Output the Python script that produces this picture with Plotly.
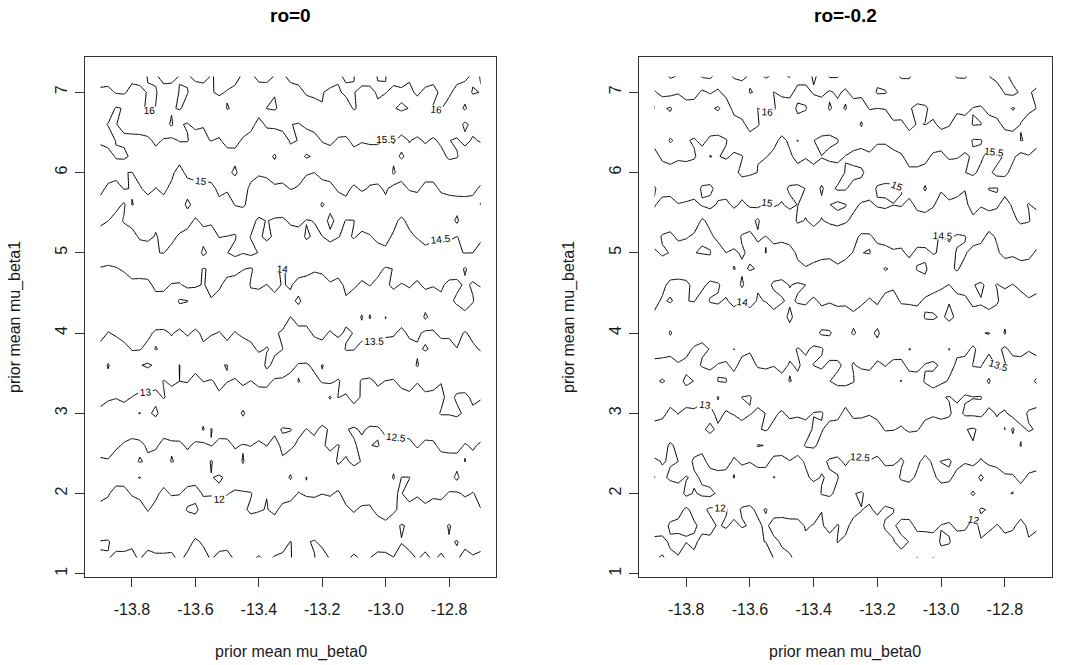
import numpy as np
import plotly.graph_objects as go

# grid coordinates (49 columns, 31 rows)
x_vals = [-13.900, -13.875, -13.850, -13.825, -13.800, -13.775, -13.750, -13.725, -13.700, -13.675,
          -13.650, -13.625, -13.600, -13.575, -13.550, -13.525, -13.500, -13.475, -13.450, -13.425,
          -13.400, -13.375, -13.350, -13.325, -13.300, -13.275, -13.250, -13.225, -13.200, -13.175,
          -13.150, -13.125, -13.100, -13.075, -13.050, -13.025, -13.000, -12.975, -12.950, -12.925,
          -12.900, -12.875, -12.850, -12.825, -12.800, -12.775, -12.750, -12.725, -12.700]
# rows from top (7.2) to bottom (1.2)
y_desc = [7.2, 7.0, 6.8, 6.6, 6.4, 6.2, 6.0, 5.8, 5.6, 5.4, 5.2, 5.0, 4.8, 4.6, 4.4, 4.2,
          4.0, 3.8, 3.6, 3.4, 3.2, 3.0, 2.8, 2.6, 2.4, 2.2, 2.0, 1.8, 1.6, 1.4, 1.2]

# ro=0 : one list per x column (left to right), values from y=7.2 down to y=1.2
z_ro0_cols = [
 [16.20,15.91,15.92,15.59,15.59,15.24,15.24,15.18,14.77,14.64,14.22,14.19,13.98,13.74,13.84,13.61,13.67,13.36,13.35,13.03,13.13,12.91,12.67,12.71,12.43,12.42,12.02,11.98,11.85,11.48,11.52],
 [16.24,15.86,15.77,15.48,15.68,15.30,15.29,14.86,14.84,14.51,14.16,14.32,13.91,13.98,13.65,13.74,13.48,13.43,12.95,13.16,13.03,12.90,12.56,12.72,12.46,12.22,12.04,11.85,11.83,11.46,11.53],
 [16.08,16.04,15.45,15.49,15.48,15.55,15.20,14.79,14.68,14.28,14.34,14.26,13.97,13.96,13.66,13.74,13.56,13.28,13.34,13.05,13.03,12.68,12.71,12.59,12.25,12.19,11.83,11.84,11.61,11.68,11.38],
 [16.03,16.06,15.53,15.60,15.42,15.60,15.01,15.03,14.42,14.55,14.22,14.42,14.05,13.80,13.86,13.60,13.75,13.31,13.37,13.03,13.12,12.75,12.75,12.44,12.38,12.22,11.82,11.86,11.61,11.72,11.36],
 [16.13,15.85,15.87,15.53,15.48,15.41,14.99,14.98,15.01,14.67,14.31,14.31,14.22,13.87,13.86,13.61,13.69,13.53,13.21,13.27,12.99,12.95,12.54,12.47,12.39,12.05,12.05,11.72,11.75,11.54,11.45],
 [16.18,15.87,15.88,15.77,15.34,15.50,15.18,14.95,14.95,14.56,14.57,14.20,14.35,13.77,13.98,13.76,13.53,13.53,13.02,13.36,12.83,13.01,12.67,12.42,12.53,11.99,12.15,11.76,11.81,11.52,11.53],
 [15.98,16.03,16.08,15.74,15.42,15.43,15.16,15.15,14.77,14.73,14.60,14.25,14.24,13.87,13.96,13.68,13.63,13.35,12.95,13.24,12.90,12.90,12.54,12.55,12.44,12.12,12.11,12.04,11.67,11.66,11.36],
 [15.95,16.03,15.99,15.66,15.58,15.35,15.19,14.99,14.93,14.58,14.47,14.49,14.10,14.12,13.83,13.85,13.41,13.52,13.05,13.17,12.85,13.12,12.55,12.57,12.30,12.25,12.10,11.86,11.75,11.55,11.48],
 [16.14,15.84,15.68,15.74,15.47,15.46,15.07,15.07,14.89,14.56,14.60,14.51,14.13,14.12,13.82,13.81,13.41,13.43,13.31,12.98,13.03,12.72,12.69,12.35,12.35,12.21,11.87,11.86,11.58,11.63,11.45],
 [16.15,15.80,15.94,16.08,15.38,15.42,15.08,14.92,14.93,14.54,14.60,14.38,14.33,13.97,13.76,13.69,13.53,13.36,13.25,13.07,12.85,12.80,12.60,12.46,12.52,12.06,12.05,11.68,11.81,11.66,11.42],
 [15.98,16.02,16.05,15.53,15.53,15.17,14.84,14.95,14.70,14.73,14.44,14.48,14.32,13.95,13.45,13.74,13.42,13.40,12.99,13.00,12.88,12.61,12.70,12.43,12.44,12.06,12.02,11.76,11.86,11.57,11.58],
 [15.95,16.02,15.83,15.47,15.53,15.14,15.12,14.77,15.12,14.68,14.32,14.39,14.15,14.12,13.49,13.67,13.55,13.30,13.18,13.02,12.80,12.73,12.57,12.55,12.37,12.23,11.83,12.04,11.72,11.63,11.42],
 [16.11,15.77,15.76,15.62,15.26,15.28,15.18,14.82,14.82,14.43,14.45,14.11,14.12,14.05,13.72,13.75,13.42,13.42,13.16,12.85,12.96,12.69,12.70,12.44,12.47,12.15,11.84,12.10,11.74,11.44,11.44],
 [16.16,15.78,15.81,15.51,15.46,15.35,15.06,14.95,14.77,14.61,14.32,14.62,13.98,13.98,13.97,13.57,13.57,13.44,13.15,13.01,12.83,12.79,13.05,12.38,12.33,12.02,12.04,11.82,11.88,11.55,11.38],
 [15.98,15.96,15.60,15.57,15.51,15.17,15.20,14.88,14.87,14.57,14.30,14.34,14.04,14.08,13.98,13.61,13.55,13.22,13.28,12.97,12.95,12.77,12.48,12.52,11.95,12.02,12.04,11.77,11.84,11.51,11.54],
 [16.05,16.08,15.70,15.72,15.45,15.35,15.18,15.10,14.90,14.55,14.51,14.32,14.18,14.08,13.82,13.69,13.48,13.43,13.02,13.08,12.95,12.68,12.66,12.38,12.31,11.94,12.11,11.85,11.68,11.67,11.39],
 [16.26,15.96,16.02,15.68,15.65,15.32,15.32,15.07,14.74,14.77,14.49,14.49,14.17,13.84,13.92,13.56,13.58,13.41,12.99,13.02,12.69,12.78,12.65,12.40,12.42,12.07,12.03,11.72,11.75,11.65,11.37],
 [16.19,15.85,15.95,15.59,15.66,15.33,15.62,15.04,15.02,14.66,14.47,14.59,14.21,13.71,13.97,13.68,13.48,13.41,13.24,12.95,12.83,12.80,12.78,12.54,12.36,12.34,11.90,11.94,11.59,11.58,11.56],
 [15.91,15.97,15.71,15.75,15.44,15.47,15.15,15.23,15.06,14.72,14.69,14.52,14.02,13.77,13.84,13.56,13.60,13.25,13.23,13.08,12.79,13.05,12.77,12.48,12.52,12.36,11.94,11.93,11.63,11.68,11.51],
 [15.91,16.00,15.62,15.65,15.31,15.39,15.19,14.87,14.86,14.68,14.48,14.61,13.96,14.03,13.87,13.57,13.70,13.34,13.31,12.99,12.89,12.83,12.87,12.51,12.36,12.36,11.97,12.07,11.81,11.64,11.58],
 [16.13,15.77,15.71,15.35,15.41,15.09,15.06,14.77,14.86,14.40,14.45,14.48,14.13,14.09,13.76,13.83,13.59,13.59,13.15,13.11,12.80,12.80,12.72,12.41,12.44,12.15,12.21,12.04,11.75,11.79,11.46],
 [16.15,15.77,16.01,15.57,15.26,15.15,15.02,14.96,14.78,14.52,14.57,14.30,14.18,13.99,13.94,13.79,13.68,13.47,13.62,13.13,12.79,12.85,12.57,12.51,12.34,12.32,12.01,11.98,11.88,11.63,11.58],
 [15.98,15.98,16.05,15.58,15.28,14.95,15.22,14.92,14.86,14.43,14.45,14.37,14.04,14.12,13.87,13.90,13.57,13.59,13.37,12.93,12.98,12.65,12.60,12.35,12.44,12.32,12.04,12.10,11.80,11.73,11.47],
 [15.93,16.00,15.87,15.66,15.29,15.23,15.24,14.87,14.88,14.40,14.44,14.46,13.97,13.97,13.98,13.81,13.42,13.51,13.15,12.96,12.83,12.80,12.47,12.59,12.45,12.31,12.21,11.87,11.90,11.73,11.39],
 [16.12,15.81,15.84,15.51,15.55,15.33,15.01,15.02,14.64,14.59,14.26,14.31,14.07,14.05,13.89,13.49,13.47,13.16,13.17,12.81,12.89,12.75,12.49,12.58,12.27,12.55,12.15,11.83,11.83,11.49,11.48],
 [16.22,15.82,15.87,15.47,15.49,15.33,15.13,14.97,14.59,14.64,14.28,14.36,14.23,13.82,14.08,13.72,13.33,13.36,12.96,13.01,12.88,12.65,12.59,12.43,12.41,12.18,11.98,11.93,11.73,11.61,11.63],
 [16.15,16.07,15.69,15.61,15.21,15.55,15.05,14.75,14.78,14.48,14.56,14.22,14.17,13.79,13.81,13.69,13.35,13.34,12.95,12.95,12.69,12.79,12.49,12.49,12.30,11.99,12.05,11.77,11.82,11.54,11.56],
 [16.15,16.16,15.71,15.72,15.28,15.45,15.00,14.91,14.72,14.51,14.44,14.46,14.02,13.92,13.91,13.51,13.58,13.25,13.08,12.90,12.83,12.67,12.57,12.39,12.20,12.13,12.12,11.62,11.87,11.46,11.52],
 [16.33,16.03,15.98,15.58,15.54,15.18,15.16,14.80,14.45,14.78,14.49,14.48,14.10,13.79,13.83,13.53,13.57,13.41,12.99,13.03,12.72,12.74,12.42,12.45,12.33,12.03,12.01,11.68,11.72,11.62,11.31],
 [16.31,15.88,15.92,15.55,15.62,15.24,15.24,14.82,14.68,14.35,14.63,14.23,14.23,13.95,13.75,13.66,13.47,13.47,13.06,13.10,12.45,12.86,12.54,12.59,12.34,12.29,12.06,11.71,11.79,11.52,11.54],
 [16.07,15.93,15.67,15.75,15.44,15.46,15.12,15.08,14.69,14.67,14.52,14.18,14.17,13.87,13.93,13.59,13.58,13.29,13.31,12.95,13.01,12.77,12.81,12.48,12.54,12.33,11.92,11.97,11.63,11.62,11.53],
 [15.93,16.10,15.75,15.77,15.41,15.48,15.09,15.11,14.88,14.48,14.41,14.31,14.11,14.08,13.96,13.58,13.45,13.53,13.15,13.19,12.95,12.88,12.52,12.61,12.45,12.21,12.21,11.91,11.80,11.60,11.58],
 [15.99,16.02,16.05,15.59,15.63,15.31,15.29,14.91,14.87,14.49,14.54,14.21,14.20,14.08,13.74,13.78,13.51,13.52,13.19,13.20,13.13,12.81,12.45,12.54,12.59,12.27,12.26,12.06,11.73,11.74,11.43],
 [16.21,15.86,15.87,15.71,15.52,15.37,15.13,15.07,14.67,14.73,14.38,14.41,14.21,13.92,13.83,13.45,13.70,13.30,13.35,12.95,12.96,12.90,12.55,12.41,12.48,12.14,12.33,11.89,11.93,11.53,11.56],
 [16.19,15.88,15.93,15.61,15.61,15.18,15.15,14.96,14.68,14.76,14.46,14.41,14.04,14.02,13.70,14.05,13.64,13.28,13.28,12.93,12.97,12.75,12.44,12.49,12.19,12.25,12.20,11.92,11.88,11.51,11.51],
 [15.98,16.05,15.93,15.57,15.61,15.19,15.22,14.91,14.88,14.56,14.63,14.29,14.12,13.89,13.89,13.65,13.71,13.40,13.18,13.06,12.87,12.81,12.44,12.53,12.21,12.32,12.11,12.14,11.78,11.73,11.37],
 [15.99,16.02,15.69,15.76,15.43,15.40,15.03,15.07,14.88,14.60,14.61,14.42,13.95,13.94,13.85,13.49,13.58,13.30,13.32,12.99,12.96,12.60,12.61,12.35,12.42,12.14,12.23,12.18,11.91,11.74,11.38],
 [16.21,15.85,15.98,15.66,15.53,15.39,15.58,14.83,14.94,14.62,14.44,14.43,14.01,14.07,13.82,13.75,13.57,13.24,13.31,12.96,12.99,12.59,12.52,12.48,12.30,12.56,12.01,12.12,11.60,11.73,11.49],
 [16.22,15.91,16.05,15.75,15.37,15.55,15.21,14.83,14.81,14.40,14.48,14.23,14.28,13.97,13.96,13.77,13.36,13.39,13.11,13.16,12.80,12.78,12.66,12.35,12.36,11.99,11.99,11.82,11.47,11.51,11.42],
 [16.06,15.90,15.99,15.64,15.52,15.39,15.24,15.05,14.65,14.63,14.40,14.33,14.15,14.04,13.83,13.79,13.60,13.31,13.24,13.21,12.88,12.68,12.69,12.37,12.40,11.99,12.12,11.89,11.55,11.64,11.39],
 [16.14,16.08,15.75,15.78,15.42,15.42,15.05,15.09,14.72,14.66,14.54,14.18,14.21,13.92,13.95,13.58,13.59,13.43,13.55,13.04,12.72,12.80,12.51,12.56,12.19,12.21,12.07,11.74,11.82,11.52,11.53],
 [16.26,15.88,15.78,15.87,15.55,15.32,15.23,14.84,14.92,14.53,14.70,14.32,14.11,14.10,13.74,14.10,13.40,13.54,13.21,13.20,12.90,12.70,12.74,12.38,12.42,12.04,12.18,11.89,11.73,11.62,11.43],
 [16.15,15.86,16.04,15.76,15.44,15.43,15.23,14.84,14.87,14.59,14.63,14.22,14.21,14.04,13.70,13.76,13.44,13.43,13.10,13.17,12.87,12.83,12.75,12.40,12.40,12.04,12.09,11.80,11.83,11.53,11.55],
 [16.00,16.09,16.02,15.69,15.58,15.37,15.34,15.10,14.71,14.79,14.51,14.33,14.12,14.07,13.91,13.58,13.63,13.25,13.32,13.02,12.89,13.04,12.63,12.66,12.26,12.27,12.14,11.78,11.74,11.62,11.45],
 [16.05,16.08,15.82,15.85,15.51,15.57,15.22,15.16,14.77,14.75,14.59,14.25,14.27,13.88,13.88,13.59,13.60,13.30,13.33,13.05,13.15,13.03,12.70,12.68,12.30,12.29,11.96,11.99,11.45,11.54,11.57],
 [16.16,15.85,15.84,15.75,15.45,15.53,15.15,15.20,14.78,15.10,14.49,14.47,14.23,13.88,14.11,13.64,13.63,13.49,13.15,13.25,12.92,13.10,12.65,12.68,12.31,12.62,11.93,11.97,11.72,11.48,11.56],
 [16.08,15.83,16.06,15.40,15.62,15.28,15.33,15.01,14.99,14.60,14.60,14.51,13.95,14.07,14.11,13.93,13.46,13.49,13.21,13.25,12.90,12.92,12.80,12.46,12.51,12.12,12.07,11.75,11.81,11.63,11.35],
 [15.94,16.03,15.77,15.64,15.45,15.37,15.18,15.09,14.88,14.72,14.53,14.50,14.19,13.95,14.03,13.76,13.61,13.42,13.32,13.14,13.08,12.92,12.66,12.56,12.37,12.23,11.98,11.97,11.65,11.78,11.44],
 [16.01,15.99,15.66,15.65,15.54,15.21,15.23,14.94,15.01,14.64,14.63,14.24,14.25,14.04,13.75,13.83,13.53,13.54,13.18,13.24,13.05,12.74,12.76,12.43,12.43,12.10,12.11,11.99,11.66,11.70,11.37],
]

# ro=-0.2 : one list per x column (left to right), values from y=7.2 down to y=1.2
z_ro02_cols = [
 [16.39,15.94,16.01,15.65,15.71,15.27,15.32,14.94,15.06,14.73,14.80,14.40,14.43,14.01,14.11,13.93,13.59,13.73,13.35,13.41,13.04,13.17,12.82,12.86,12.40,12.51,12.16,12.28,12.23,11.89,11.96],
 [16.32,16.17,15.56,15.82,15.72,15.62,15.20,15.25,14.77,14.87,14.44,14.57,14.23,14.11,13.95,13.92,13.66,13.85,13.21,13.55,13.00,13.14,12.74,12.77,12.53,12.40,12.30,12.15,12.23,11.87,12.03],
 [16.55,16.16,15.45,15.70,16.05,15.71,15.28,15.24,14.75,14.79,14.37,14.48,14.27,13.88,14.04,13.70,14.05,13.68,13.28,13.39,13.22,12.87,12.97,12.40,12.46,12.58,12.18,12.26,11.92,12.07,11.91],
 [16.48,16.03,15.73,15.63,15.90,15.53,15.41,15.14,14.99,14.74,14.60,14.23,14.44,13.75,13.90,13.81,13.81,13.80,13.44,13.34,13.34,13.01,12.86,12.66,12.50,12.64,12.24,12.21,11.85,12.16,11.97],
 [16.13,16.21,15.77,15.86,15.55,15.63,15.22,15.30,14.93,14.93,14.55,14.17,14.28,13.89,13.99,13.62,13.79,13.66,13.36,13.60,13.25,12.86,13.00,12.62,12.77,12.47,12.62,11.90,11.98,12.01,11.82],
 [16.22,16.21,15.73,15.83,15.44,15.57,15.15,15.27,14.86,14.84,14.40,14.49,14.04,14.13,14.02,13.64,13.84,13.43,13.32,13.49,13.05,12.98,12.85,12.78,12.40,12.58,12.46,12.16,11.93,12.08,11.92],
 [16.55,15.91,15.97,15.56,15.65,15.23,15.32,14.93,15.05,14.42,14.46,14.53,14.09,14.12,13.77,13.92,13.59,13.44,13.55,13.12,13.14,12.77,12.93,12.66,12.35,12.44,12.57,12.12,12.12,11.89,11.79],
 [16.58,16.05,15.56,15.79,15.39,15.51,15.30,14.90,15.13,14.63,14.41,14.52,14.37,13.88,14.03,13.71,13.75,13.51,13.64,13.18,13.22,12.84,13.10,12.72,12.66,12.28,12.64,11.91,12.16,11.89,11.67],
 [16.34,15.91,15.45,15.76,15.37,15.47,15.04,15.15,14.95,14.54,14.62,14.26,14.37,13.95,14.05,13.79,13.63,13.81,13.47,13.51,12.97,13.15,12.91,12.52,12.69,12.36,12.41,11.96,11.95,11.60,11.75],
 [16.31,16.17,15.66,15.91,15.46,15.59,15.06,15.23,14.88,14.73,14.57,14.50,14.32,14.17,13.95,13.90,13.61,13.80,13.41,13.52,13.25,12.95,12.93,12.52,12.70,12.31,12.39,11.95,12.07,11.67,11.95],
 [16.55,16.18,16.18,15.75,15.81,15.39,15.36,15.07,15.10,14.65,14.76,14.41,14.52,14.11,14.14,13.77,13.85,13.49,13.66,13.26,13.28,13.04,12.67,12.76,12.41,12.52,12.12,12.22,11.86,11.97,11.88],
 [16.62,16.20,16.30,15.85,15.93,15.47,15.62,15.18,14.92,14.82,14.45,14.56,14.41,14.60,13.99,13.90,13.72,13.68,13.30,13.44,12.99,13.19,12.77,12.59,12.59,12.20,12.34,11.94,12.05,11.68,11.92],
 [16.44,16.52,16.16,16.22,15.74,15.79,15.60,15.02,15.06,14.70,14.40,14.41,14.54,14.15,14.18,13.76,13.82,13.58,13.24,13.35,12.96,13.04,12.60,12.69,12.52,12.17,12.29,11.90,11.96,11.64,11.72],
 [16.37,16.46,15.99,16.06,15.56,15.51,15.49,15.02,15.14,14.40,14.58,14.34,14.47,14.04,13.96,13.88,13.73,13.68,13.57,13.11,13.20,12.89,12.96,12.48,12.74,12.10,12.45,12.09,11.91,11.96,11.60],
 [16.55,16.12,16.14,15.65,15.66,15.53,15.13,15.25,14.92,14.95,14.48,14.51,14.07,14.19,14.02,13.70,13.87,13.51,13.61,13.16,13.20,13.01,13.05,12.51,12.63,12.28,12.37,11.97,12.09,12.01,11.68],
 [16.44,15.99,16.07,15.59,15.65,15.37,15.26,15.07,15.06,14.62,14.71,14.24,14.31,13.91,14.18,13.84,13.69,13.65,13.51,13.37,13.13,13.10,12.87,12.79,12.36,12.51,12.11,12.20,11.82,12.10,12.02],
 [16.02,16.11,15.72,15.82,15.37,15.45,15.06,15.17,14.96,14.55,14.63,14.25,14.29,13.86,14.05,13.71,13.81,13.51,13.66,13.34,13.37,12.92,12.93,12.77,12.34,12.45,12.09,12.17,11.82,11.95,12.10],
 [15.99,16.13,15.77,15.69,15.59,15.42,15.33,14.92,15.13,14.68,14.72,14.29,14.49,14.02,13.91,14.15,13.72,13.62,13.46,13.52,13.07,13.16,12.69,12.89,12.48,12.34,12.27,12.07,11.95,11.79,12.08],
 [16.19,15.84,16.08,15.84,15.49,15.65,15.31,14.90,14.99,15.08,14.57,14.59,14.38,13.94,14.05,13.72,13.86,13.47,13.55,13.42,13.01,13.09,12.71,12.76,12.34,12.47,12.15,12.23,11.84,11.91,11.82],
 [16.21,15.82,16.04,15.72,15.64,15.51,15.43,15.01,15.13,14.97,14.81,14.56,14.49,14.00,14.09,13.72,13.99,13.57,13.39,13.44,13.05,13.18,12.74,13.05,12.56,12.41,12.29,12.08,12.04,11.92,11.68],
 [15.94,16.05,15.69,15.83,15.51,15.68,15.31,15.42,15.01,15.14,14.75,14.76,14.33,14.34,13.89,13.97,13.82,13.42,13.51,13.19,13.33,12.98,13.07,13.10,12.50,12.61,12.18,12.20,11.98,11.69,11.77],
 [16.12,16.12,15.73,15.92,15.34,15.51,15.40,14.90,15.13,14.97,14.83,14.58,14.39,14.17,14.12,13.73,14.07,13.44,13.59,13.22,13.37,12.96,13.05,12.82,12.60,12.47,12.53,12.01,11.95,11.91,11.95],
 [16.55,15.94,16.04,15.70,15.40,15.62,15.22,15.35,15.01,15.09,14.64,14.67,14.21,14.25,14.04,13.73,14.05,13.76,13.39,13.49,13.14,13.21,12.78,12.83,12.44,12.56,12.60,12.07,12.16,11.82,11.88],
 [16.54,16.07,15.89,15.83,15.47,15.67,15.24,15.57,14.87,15.23,14.53,14.81,14.37,14.12,14.21,13.59,13.83,13.79,13.38,13.67,13.05,13.17,12.76,12.82,12.37,12.53,12.36,12.17,11.98,12.01,11.88],
 [16.29,15.92,16.03,15.70,15.85,15.48,15.53,15.55,14.99,15.06,14.65,14.68,14.25,14.28,14.12,13.73,13.84,13.51,13.63,13.60,13.25,12.85,12.97,12.55,12.60,12.22,12.35,12.01,12.10,11.93,11.62],
 [16.04,16.15,15.77,15.73,15.92,15.26,15.68,15.29,15.11,14.89,14.67,14.47,14.31,14.09,14.23,13.88,14.05,13.64,13.47,13.53,13.14,13.14,12.70,12.79,12.36,12.46,12.02,12.13,11.87,11.90,11.83],
 [16.06,16.12,15.75,16.05,15.70,15.30,15.58,15.32,14.95,14.97,14.39,14.49,14.09,14.21,14.10,13.74,13.88,13.52,13.60,13.17,13.26,13.12,12.71,12.77,12.36,12.39,11.95,12.01,11.91,11.60,11.79],
 [16.35,16.22,16.03,15.66,15.77,15.40,15.31,15.28,14.89,14.95,14.40,14.53,14.12,14.26,13.94,13.87,13.85,13.77,13.64,13.21,13.31,13.02,12.86,12.63,12.49,12.29,12.14,11.93,11.97,11.91,11.68],
 [16.38,16.55,16.00,15.54,15.59,15.21,15.30,14.93,15.06,14.65,14.67,14.26,14.38,14.03,14.08,13.74,14.10,13.77,13.40,13.49,13.06,13.17,12.76,12.79,12.36,12.42,12.05,12.11,11.79,11.92,11.80],
 [16.22,16.54,16.01,15.85,15.54,15.37,15.46,14.78,15.16,14.50,14.85,14.20,14.53,14.21,13.79,13.97,13.72,13.61,13.52,13.32,13.19,13.04,13.05,12.55,12.61,12.20,12.33,11.91,12.06,11.83,11.86],
 [16.30,16.22,16.29,15.90,15.78,15.29,15.33,14.88,15.01,14.63,14.76,14.43,14.44,14.11,13.76,13.89,13.57,13.73,13.38,13.45,13.08,13.17,13.03,12.54,12.58,12.24,12.37,11.98,12.07,11.98,11.63],
 [16.57,16.09,16.30,15.88,15.91,15.41,15.49,14.97,15.05,14.63,14.76,14.39,14.45,14.04,14.07,13.67,13.83,13.73,13.37,13.51,13.08,13.25,12.93,12.67,12.45,12.57,12.13,12.25,11.84,12.12,11.86],
 [16.55,16.21,16.06,16.16,15.75,15.79,15.34,15.29,14.81,14.88,14.51,14.64,14.19,14.20,14.08,13.72,13.83,13.49,13.64,13.27,13.33,13.08,13.10,12.53,12.61,12.65,12.14,12.24,11.85,11.99,11.85],
 [16.26,16.38,15.85,15.97,15.81,15.61,15.44,15.28,15.16,14.72,14.79,14.35,14.54,14.12,14.12,13.74,13.92,13.54,13.68,13.26,13.38,13.01,13.06,12.51,12.60,12.41,12.39,12.02,12.13,11.77,12.01],
 [16.22,16.31,15.93,16.01,15.58,15.68,15.29,15.55,15.20,14.79,14.81,14.35,14.60,14.30,13.91,14.04,13.71,13.85,13.47,13.55,13.14,13.18,12.75,12.76,12.34,12.46,12.37,12.03,12.12,11.80,11.90],
 [16.48,16.04,16.15,15.93,15.83,15.40,15.47,15.19,15.07,14.66,14.73,14.54,14.18,14.32,13.70,14.10,13.50,13.90,13.38,13.70,13.23,13.03,12.89,12.69,12.57,12.42,12.46,12.05,12.17,11.79,12.01],
 [16.43,16.05,16.13,16.10,15.78,15.35,15.37,15.08,14.70,14.82,14.39,14.44,14.00,14.08,13.79,13.91,13.56,13.68,13.58,13.60,13.04,13.13,12.78,12.89,12.49,12.62,12.28,12.36,11.98,12.05,11.86],
 [16.35,16.20,16.02,16.05,15.62,15.59,15.11,15.27,14.89,14.71,14.57,14.36,14.40,13.99,13.97,14.12,13.67,13.49,13.63,13.46,12.97,13.09,12.70,12.82,12.44,12.61,12.20,12.32,11.92,12.04,11.76],
 [16.55,16.08,16.15,15.69,15.71,15.55,15.14,15.22,14.80,14.84,14.44,14.53,14.55,14.20,13.83,13.92,13.51,13.57,13.44,13.05,13.13,12.77,12.87,12.51,12.66,12.33,12.41,12.04,12.11,11.79,11.86],
 [16.56,16.09,16.21,15.73,15.74,15.42,15.49,15.02,14.87,14.98,14.47,14.56,14.34,14.25,13.87,13.99,13.53,13.64,13.33,13.35,12.94,13.09,12.52,12.65,12.51,12.43,12.35,12.24,12.11,11.73,11.95],
 [16.33,16.39,15.98,16.03,15.46,15.56,15.60,15.08,15.23,14.87,14.78,14.29,14.39,14.02,14.14,13.76,13.81,13.42,13.51,13.39,12.99,13.10,12.45,12.52,12.60,12.24,12.55,12.19,11.82,11.93,11.79],
 [16.28,16.38,15.93,16.01,15.47,15.59,15.37,15.18,15.05,14.71,14.69,14.23,14.36,13.93,14.02,13.94,13.51,13.65,13.53,13.32,12.98,13.12,12.58,12.67,12.46,11.90,12.34,11.96,12.11,11.97,11.72],
 [16.49,16.09,16.18,15.75,15.75,15.32,15.40,14.99,15.10,14.84,14.33,14.40,14.02,14.11,14.15,13.87,13.49,13.61,13.26,13.55,13.24,12.87,12.94,12.51,12.58,12.23,12.36,12.03,12.13,11.77,11.88],
 [16.69,16.17,16.28,15.82,15.83,15.33,15.65,14.97,15.09,14.73,14.57,14.41,14.24,13.98,14.08,13.73,13.62,13.63,13.54,13.24,13.12,13.04,12.86,12.71,12.53,12.45,12.28,12.19,11.98,11.98,11.87],
 [16.62,16.55,16.13,16.17,15.65,15.57,15.60,15.20,14.80,14.91,14.57,14.69,14.15,14.09,13.72,13.85,14.05,13.40,13.53,13.19,13.30,12.92,13.01,12.64,12.77,12.42,12.47,12.04,12.07,11.92,11.61],
 [16.36,16.63,15.97,16.23,15.70,15.58,15.37,15.26,15.07,14.87,14.72,14.55,14.34,13.98,13.91,13.75,13.65,13.66,13.28,13.45,13.08,13.21,12.42,12.72,12.84,12.42,12.51,12.03,12.09,11.79,11.82],
 [16.34,16.44,16.08,15.99,16.01,15.34,15.43,15.03,15.10,15.10,14.60,14.71,14.28,14.13,13.80,13.89,13.52,13.65,13.33,13.47,13.13,13.24,12.90,13.03,12.62,12.67,12.22,12.25,11.83,11.90,11.76],
 [16.44,16.05,16.17,15.65,15.97,15.46,15.29,15.19,14.98,15.04,14.58,14.70,14.21,14.30,13.93,13.75,13.65,13.51,13.44,13.39,13.33,12.92,13.05,12.67,12.80,12.39,12.46,12.03,12.10,11.96,11.67],
 [16.26,15.90,15.99,15.60,15.68,15.30,15.41,15.05,15.13,14.74,14.82,14.40,14.44,14.23,13.80,13.89,13.53,13.65,13.29,13.55,13.25,12.86,12.96,12.60,12.72,12.34,12.41,12.06,12.12,11.75,11.82],
]

panel_titles = ["ro=0", "ro=-0.2"]
x_title = "prior mean mu_beta0"
y_title = "prior mean mu_beta1"
x_tickvals = [-13.8, -13.6, -13.4, -13.2, -13.0, -12.8]
x_ticktext = ["-13.8", "-13.6", "-13.4", "-13.2", "-13.0", "-12.8"]
y_tickvals = [1, 2, 3, 4, 5, 6, 7]
y_ticktext = ["1", "2", "3", "4", "5", "6", "7"]

W, H = 1066, 665
FONT = "Liberation Sans, Arial, Helvetica, sans-serif"
INK = "#1a1a1a"

y_asc = y_desc[::-1]

fig = go.Figure()
for i, cols in enumerate([z_ro0_cols, z_ro02_cols]):
    z = np.array(cols).T[::-1]
    sfx = "" if i == 0 else "2"
    fig.add_trace(go.Contour(
        x=x_vals, y=y_asc, z=z,
        xaxis="x" + sfx, yaxis="y" + sfx,
        contours=dict(coloring="lines", start=11.5, end=16.5, size=0.5,
                      showlabels=True,
                      labelfont=dict(size=10, color="#000000", family=FONT)),
        line=dict(width=1, smoothing=0),
        colorscale=[[0, "#000000"], [1, "#000000"]],
        showscale=False, hoverinfo="skip",
    ))

# panel boxes in pixels
boxes = [(85, 496), (639, 1052)]
top_px, bot_px = 57, 577
ydom = [(H - bot_px) / H, (H - top_px) / H]

axis_common = dict(showline=True, mirror=True, linecolor="#333333", linewidth=1,
                   ticks="outside", ticklen=9, tickwidth=1, tickcolor="#333333",
                   showgrid=False, zeroline=False,
                   tickfont=dict(size=16, color=INK, family=FONT))

layout = dict(width=W, height=H, margin=dict(l=0, r=0, t=0, b=0),
              paper_bgcolor="white", plot_bgcolor="white", showlegend=False)
for i, (x0, x1) in enumerate(boxes):
    sfx = "" if i == 0 else "2"
    layout["xaxis" + sfx] = dict(axis_common, domain=[x0 / W, x1 / W],
                                 range=[-13.948, -12.652],
                                 tickvals=x_tickvals, ticktext=x_ticktext,
                                 ticklabelstandoff=9,
                                 anchor="y" + sfx)
    layout["yaxis" + sfx] = dict(axis_common, domain=ydom,
                                 range=[0.96, 7.44],
                                 tickvals=y_tickvals, ticktext=y_ticktext,
                                 tickangle=-90, ticklabelstandoff=2,
                                 anchor="x" + sfx)
fig.update_layout(**layout)

annotations = []
title_x = [290.5, 845.0]
ylab_x = [15, 569]
for i in range(2):
    annotations.append(dict(text="<b>" + panel_titles[i] + "</b>", x=title_x[i] / W, y=(H - 15) / H,
                            xref="paper", yref="paper", xanchor="center", yanchor="middle",
                            showarrow=False, font=dict(size=19, color="black", family=FONT)))
    annotations.append(dict(text=x_title, x=title_x[i] / W, y=(H - 652) / H,
                            xref="paper", yref="paper", xanchor="center", yanchor="middle",
                            showarrow=False, font=dict(size=16, color=INK, family=FONT)))
    annotations.append(dict(text=y_title, x=ylab_x[i] / W, y=(H - 317) / H,
                            xref="paper", yref="paper", xanchor="center", yanchor="middle",
                            textangle=-90, showarrow=False,
                            font=dict(size=16, color=INK, family=FONT)))
fig.update_layout(annotations=annotations)

fig.write_html("out.html")
